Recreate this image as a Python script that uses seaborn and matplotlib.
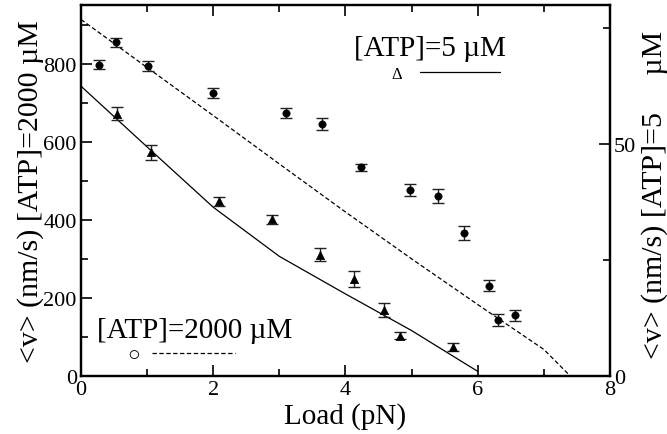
import matplotlib
matplotlib.use("Agg")
import matplotlib.pyplot as plt
from matplotlib.ticker import MultipleLocator
import pandas as pd
import seaborn as sns

# measured mean velocity, [ATP]=2000 uM (left axis)
load_2000 = [0.27, 0.53, 1.01, 2.00, 3.10, 3.65, 4.24, 4.98, 5.40, 5.79, 6.17, 6.31, 6.56]
v_2000 = [797, 854, 794, 724, 673, 645, 535, 477, 461, 367, 231, 143, 155]
err_2000 = [11, 12, 12, 13, 12, 15, 9, 15, 18, 18, 14, 15, 14]

# measured mean velocity, [ATP]=5 uM (right axis)
load_5 = [0.54, 1.06, 2.08, 2.89, 3.61, 4.13, 4.58, 4.83, 5.62]
v_5 = [56.6, 48.2, 37.7, 33.8, 26.2, 20.9, 14.2, 8.7, 6.2]
err_5 = [1.5, 1.6, 1.0, 1.0, 1.45, 1.7, 1.45, 0.7, 0.85]

# model curves
model_load_2000 = [0, 1, 2, 3, 4, 5, 6, 7, 7.4]
model_v_2000 = [913, 790, 667, 543, 420, 300, 183, 68, 0]
model_load_5 = [0, 1, 2, 3, 4, 5, 6]
model_v_5 = [62.5, 49.4, 36.4, 25.8, 17.7, 9.8, 1.0]

sns.set_theme(style="ticks", rc={
    "axes.edgecolor": "black", "text.color": "black", "axes.labelcolor": "black",
    "xtick.color": "black", "ytick.color": "black",
})
plt.rcParams["font.family"] = ["Liberation Serif", "DejaVu Sans"]

df_2000 = pd.DataFrame({"load": load_2000, "v": v_2000, "err": err_2000})
df_5 = pd.DataFrame({"load": load_5, "v": v_5, "err": err_5})
model_2000 = pd.DataFrame({"load": model_load_2000, "v": model_v_2000})
model_5 = pd.DataFrame({"load": model_load_5, "v": model_v_5})

fig = plt.figure(figsize=(6.67, 4.35), dpi=100)
ax = fig.add_axes([0.1214, 0.1333, 0.7931, 0.8529])
ax2 = ax.twinx()

# 2000 uM on the left axis
sns.lineplot(data=model_2000, x="load", y="v", ax=ax, color="black", lw=0.9,
             sort=False, estimator=None)
dash_line = ax.lines[-1]
dash_line.set_dashes([3.5, 2])
ax.errorbar(df_2000["load"], df_2000["v"], yerr=df_2000["err"], fmt="none",
            ecolor="#222222", elinewidth=1, capsize=4, capthick=1)
sns.scatterplot(data=df_2000, x="load", y="v", ax=ax, marker="o", s=28,
                color="black", edgecolor="black", zorder=3)

# 5 uM on the right axis
sns.lineplot(data=model_5, x="load", y="v", ax=ax2, color="black", lw=0.9,
             sort=False, estimator=None)
solid_line = ax2.lines[-1]
ax2.errorbar(df_5["load"], df_5["v"], yerr=df_5["err"], fmt="none",
             ecolor="#222222", elinewidth=1, capsize=4, capthick=1)
sns.scatterplot(data=df_5, x="load", y="v", ax=ax2, marker="^", s=36,
                color="black", edgecolor="black", zorder=3)

ax.set_xlim(0, 8)
ax.set_ylim(0, 950)
ax2.set_ylim(0, 80)

ax.xaxis.set_major_locator(MultipleLocator(2))
ax.xaxis.set_minor_locator(MultipleLocator(1))
ax.yaxis.set_major_locator(MultipleLocator(200))
ax.yaxis.set_minor_locator(MultipleLocator(100))
ax2.yaxis.set_major_locator(MultipleLocator(50))
ax2.yaxis.set_minor_locator(MultipleLocator(25))

ax.tick_params(which="both", direction="in", top=True, right=False,
               labelsize=16, width=1.2, pad=3)
ax.tick_params(which="major", length=8)
ax.tick_params(which="minor", length=5)
ax2.tick_params(which="both", direction="in", left=False, right=True,
                labelsize=16, width=1.2, pad=3)
ax2.tick_params(which="major", length=8)
ax2.tick_params(which="minor", length=5)

for a in (ax, ax2):
    for sp in a.spines.values():
        sp.set_linewidth(1.6)
        sp.set_visible(True)

ax.set_xlabel("Load (pN)", fontsize=21, labelpad=2)
ax.set_ylabel("<v> (nm/s) [ATP]=2000 \u00b5M", fontsize=21.5)
ax.yaxis.set_label_coords(-0.07, 0.5)
ax2.set_ylabel("<v> (nm/s) [ATP]=5     \u00b5M", fontsize=21.5)
ax2.yaxis.set_label_coords(1.058, 0.49)

# legend titles
ax.text(0.516, 0.865, "[ATP]=5 \u00b5M", transform=ax.transAxes,
        fontsize=21, ha="left", va="baseline")
ax.text(0.030, 0.105, "[ATP]=2000 \u00b5M", transform=ax.transAxes,
        fontsize=21, ha="left", va="baseline")

# legend keys: symbol name then the model line
ax.legend(handles=[dash_line], labels=["\u25cb"], loc="center left",
          bbox_to_anchor=(0.087, 0.0566), frameon=False,
          markerfirst=False, handlelength=4.0, handletextpad=0.6,
          fontsize=15, borderpad=0, borderaxespad=0)
ax2.legend(handles=[solid_line], labels=["\u0394"], loc="center left",
           bbox_to_anchor=(0.586, 0.814), frameon=False,
           markerfirst=False, handlelength=4.8, handletextpad=1.1,
           fontsize=12, borderpad=0, borderaxespad=0)

fig.savefig("out.png", dpi=100)
